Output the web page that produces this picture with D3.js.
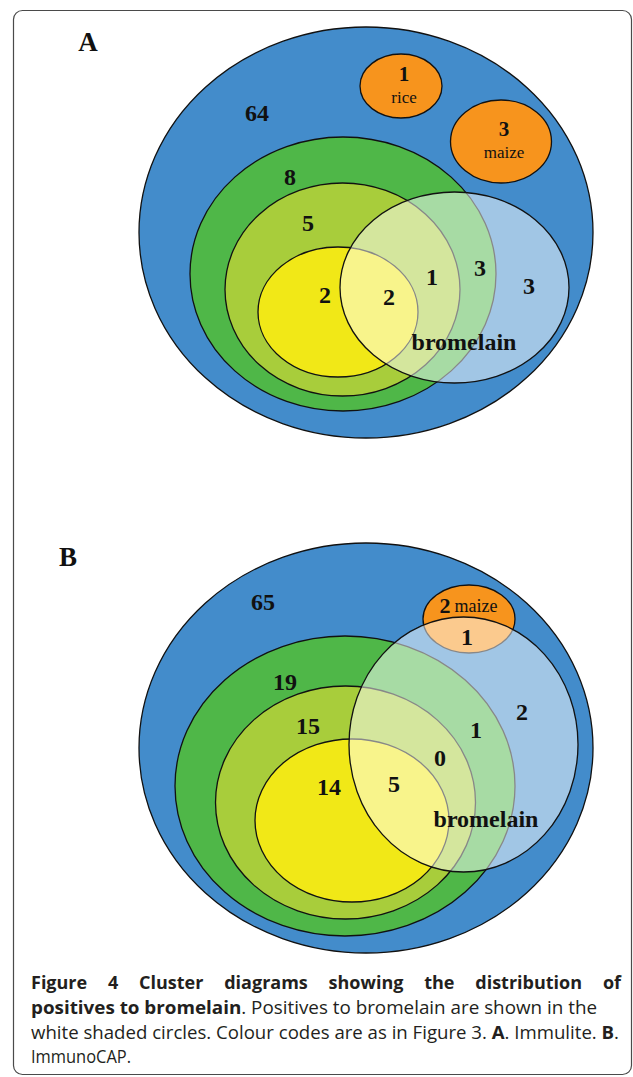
<!DOCTYPE html>
<html><head><meta charset="utf-8">
<script src="https://cdn.jsdelivr.net/npm/d3@7"></script>
<style>body{margin:0;background:#fff}svg{display:block}</style>
</head><body>
<svg id="c" width="633" height="1077"></svg>
<script>
// ---- data ----
const panels = ["A", "B"];
// counts for panel A (Immulite)
const countsA = {outer: 64, rice: 1, maize: 3, green: 8, yellowGreen: 5, yellow: 2, yellowBrom: 2, ygBrom: 1, greenBrom: 3, bromOnly: 3};
// counts for panel B (ImmunoCAP)
const countsB = {outer: 65, maize: 2, maizeBrom: 1, green: 19, yellowGreen: 15, yellow: 14, yellowBrom: 5, ygBrom: 0, greenBrom: 1, bromOnly: 2};
const captionLines = [
  [{t:"Figure 4 Cluster diagrams showing the distribution of", b:true}],
  [{t:"positives to bromelain", b:true},{t:". Positives to bromelain are shown in the", b:false}],
  [{t:"white shaded circles. Colour codes are as in Figure 3. ", b:false},{t:"A", b:true},{t:". Immulite. ", b:false},{t:"B", b:true},{t:".", b:false}],
  [{t:"ImmunoCAP.", b:false}]
];

// ---- layout (pixel geometry, separate from data) ----
const colors = {blue:"#438ccb", orange:"#f7941d", green:"#4fb748", yg:"#a8cd3b", yellow:"#f1e817", brom:"#ffffff"};
const layoutA = {
  ellipses: [
    {fill:colors.blue, cx:366, cy:232.5, rx:227, ry:205.5},
    {fill:colors.orange, cx:401, cy:86, rx:41, ry:32},
    {fill:colors.orange, cx:501, cy:141.5, rx:50.5, ry:41.5},
    {fill:colors.green, cx:343, cy:274, rx:153, ry:137},
    {fill:colors.yg, cx:342.5, cy:289.5, rx:117.5, ry:106.5},
    {fill:colors.yellow, cx:338, cy:312, rx:80, ry:65},
    {fill:colors.brom, cx:454.5, cy:287.5, rx:114.5, ry:95.5, op:0.5}
  ],
  labels: [
    {k:"outer", x:257, y:113},
    {k:"rice", x:404, y:74, sub:"rice", sy:97},
    {k:"maize", x:504, y:129, sub:"maize", sy:152},
    {k:"green", x:290, y:177},
    {k:"yellowGreen", x:308, y:223},
    {k:"yellow", x:325, y:295},
    {k:"yellowBrom", x:389, y:297},
    {k:"ygBrom", x:432, y:277},
    {k:"greenBrom", x:480, y:268},
    {k:"bromOnly", x:529, y:286}
  ],
  brom: {x:464, y:342},
  letter: {x:88, y:42}
};
const layoutB = {
  ellipses: [
    {fill:colors.blue, cx:366, cy:748, rx:227, ry:205},
    {fill:colors.orange, cx:469, cy:619, rx:46, ry:34},
    {fill:colors.green, cx:345, cy:786, rx:170, ry:150},
    {fill:colors.yg, cx:345.5, cy:802.5, rx:130, ry:116.5},
    {fill:colors.yellow, cx:352, cy:820.5, rx:97, ry:81.5},
    {fill:colors.brom, cx:463.5, cy:744.5, rx:114.5, ry:127.5, op:0.5}
  ],
  labels: [
    {k:"outer", x:263, y:602},
    {k:"maize", x:445, y:605, side:"maize", sx:476},
    {k:"maizeBrom", x:467, y:637},
    {k:"green", x:285, y:682},
    {k:"yellowGreen", x:308, y:726},
    {k:"yellow", x:329, y:787},
    {k:"yellowBrom", x:394, y:784},
    {k:"ygBrom", x:440, y:758},
    {k:"greenBrom", x:476, y:730},
    {k:"bromOnly", x:522, y:712}
  ],
  brom: {x:486, y:819},
  letter: {x:68, y:557}
};

const svg = d3.select("#c");
// frame
svg.append("rect").attr("x",13.5).attr("y",10.5).attr("width",618).attr("height",1064)
  .attr("rx",9).attr("fill","none").attr("stroke","#4a4a4a").attr("stroke-width",1.2);

const serif = "'Liberation Serif','Times New Roman',serif";
function drawPanel(name, layout, counts){
  const g = svg.append("g");
  g.selectAll("ellipse").data(layout.ellipses).join("ellipse")
    .attr("cx",d=>d.cx).attr("cy",d=>d.cy).attr("rx",d=>d.rx).attr("ry",d=>d.ry)
    .attr("fill",d=>d.fill).attr("fill-opacity",d=>d.op||1)
    .attr("stroke","#111").attr("stroke-width",1.3);
  g.selectAll("text.n").data(layout.labels).join("text").attr("class","n")
    .attr("x",d=>d.x).attr("y",d=>d.y).attr("text-anchor","middle").attr("dominant-baseline","central")
    .attr("font-family",serif).attr("font-weight","bold").attr("font-size",d=>d.sub?21:(d.side?22:24)).attr("fill","#111")
    .text(d=>counts[d.k]);
  layout.labels.filter(d=>d.sub).forEach(d=>{
    g.append("text").attr("x",d.x).attr("y",d.sy).attr("text-anchor","middle").attr("dominant-baseline","central")
      .attr("font-family",serif).attr("font-size",17).attr("fill","#111").text(d.sub);
  });
  layout.labels.filter(d=>d.side).forEach(d=>{
    g.append("text").attr("x",d.sx).attr("y",d.y+1).attr("text-anchor","middle").attr("dominant-baseline","central")
      .attr("font-family",serif).attr("font-size",18).attr("fill","#111").text(d.side);
  });
  g.append("text").attr("x",layout.brom.x).attr("y",layout.brom.y).attr("text-anchor","middle").attr("dominant-baseline","central")
    .attr("font-family",serif).attr("font-weight","bold").attr("font-size",24).attr("fill","#111").text("bromelain");
  g.append("text").attr("x",layout.letter.x).attr("y",layout.letter.y).attr("text-anchor","middle").attr("dominant-baseline","central")
    .attr("font-family",serif).attr("font-weight","bold").attr("font-size",27).attr("fill","#111").text(name);
}
drawPanel(panels[0], layoutA, countsA);
drawPanel(panels[1], layoutB, countsB);

// caption
const capX = 31, capRight = 621, capYs = [989, 1014, 1039, 1063];
const capWidths = [null, 566, 588, 100];
const cap = svg.append("g").attr("font-family","'Open Sans',sans-serif").attr("font-size",18).attr("fill","#231f20");
captionLines.forEach((line,i)=>{
  const y = capYs[i];
  if(i===0){
    const words = line[0].t.split(" ");
    const nodes = words.map(w=>cap.append("text").attr("y",y).attr("font-weight","bold").text(w));
    const widths = nodes.map(n=>n.node().getComputedTextLength());
    const total = d3.sum(widths);
    const gap = (capRight - capX - total)/(words.length-1);
    let x = capX;
    nodes.forEach((n,j)=>{ n.attr("x",x); x += widths[j]+gap; });
  } else {
    const t = cap.append("text").attr("x",capX).attr("y",y).attr("xml:space","preserve")
      .attr("textLength",capWidths[i]).attr("lengthAdjust","spacingAndGlyphs");
    line.forEach(s=>t.append("tspan").attr("font-weight",s.b?"bold":"normal").text(s.t));
  }
});
</script>
</body></html>
